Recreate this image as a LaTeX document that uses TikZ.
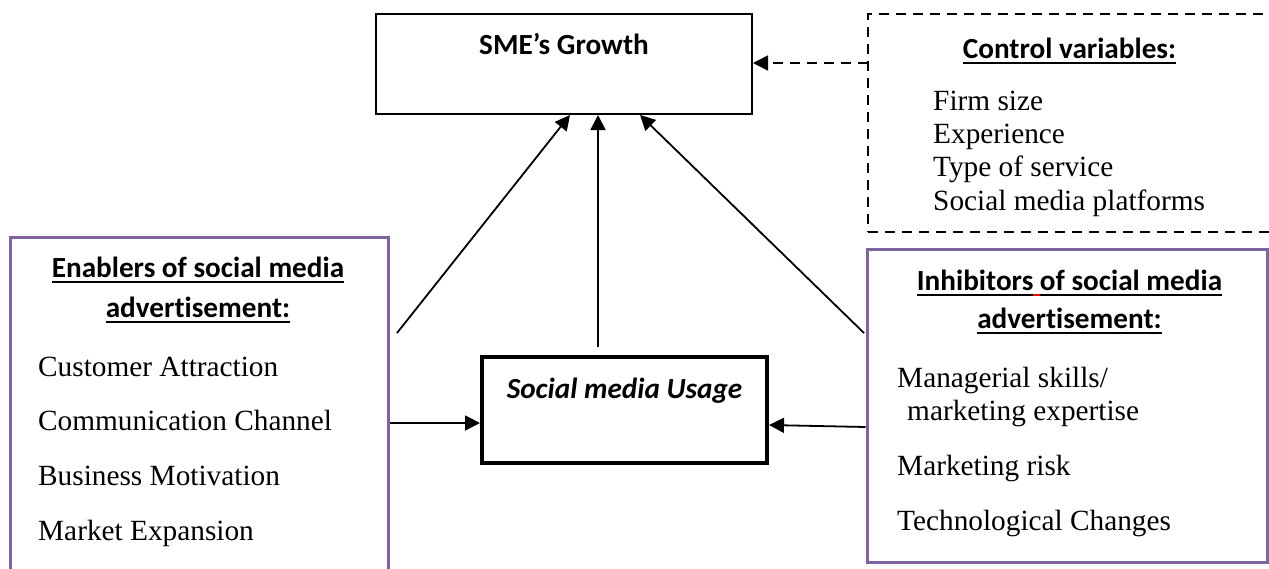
\documentclass[tikz,border=0pt]{standalone}
\usepackage{fontspec}
\setmainfont{Liberation Serif}
\newfontfamily\calfont[Ligatures=NoCommon]{Carlito}
\usetikzlibrary{arrows.meta}
\definecolor{boxpurple}{HTML}{8064A2}
\newcommand\hdul[1]{\vtop{\hbox{#1}\kern3.5pt\hrule height 2pt}}
\begin{document}
\begin{tikzpicture}[x=1pt,y=-1pt,
  serif/.style={font=\fontsize{29.3}{34}\selectfont, inner sep=0pt, anchor=base west},
  head/.style={font=\calfont\bfseries\fontsize{29.2}{34}\selectfont, inner sep=0pt, anchor=base},
  plainbox/.style={draw=black, line width=2pt, inner sep=0pt},
  purplebox/.style={draw=boxpurple, line width=3pt, inner sep=0pt},
  arr/.style={line width=1.8pt, -{Triangle[length=15pt,width=15pt]}},
  darr/.style={line width=1.6pt, dash pattern=on 10pt off 7pt, -{Triangle[length=15pt,width=15pt]}},
]
\useasboundingbox (0,0) rectangle (1269,568);
\clip (0,0) rectangle (1269,568);

% boxes
\node[plainbox, minimum width=376pt, minimum height=100pt] (sme) at (564,64) {};
\node[draw=black, line width=1.6pt, dash pattern=on 10pt off 7pt, inner sep=0pt,
      minimum width=420pt, minimum height=218pt] (ctrl) at (1078,123) {};
\node[purplebox, minimum width=378pt, minimum height=363pt] (enab) at (199,418.5) {};
\node[purplebox, minimum width=400pt, minimum height=313pt] (inhib) at (1067,405.5) {};
\node[draw=black, line width=4pt, inner sep=0pt, minimum width=285pt, minimum height=106pt] (smu) at (624.5,410) {};

% texts
\node[head] (tsme) at (564,54) {SME’s Growth};
\node[head] (tctrl) at (1069.5,58) {\hdul{Control variables:}};
\node[serif] (c1) at (933,110) {Firm size};
\node[serif] (c2) at (933,143.3) {Experience};
\node[serif] (c3) at (933,176.7) {Type of service};
\node[serif] (c4) at (933,210) {Social media platforms};

\node[head] (te1) at (198,277) {\hdul{Enablers of social media}};
\node[head] (te2) at (198,317) {\hdul{advert\kern0pt isement:}};
\node[serif] (e1) at (38,376) {Customer Attraction};
\node[serif] (e2) at (38,430) {Communication Channel};
\node[serif] (e3) at (38,485) {Business Motivation};
\node[serif] (e4) at (38,540) {Market Expansion};

\node[head] (ti1) at (1069.5,290) {\hdul{Inhibitors of social media}};
\node[head] (ti2) at (1069.5,328) {\hdul{advert\kern0pt isement:}};
\node[serif] (i1) at (897,387) {Managerial skills/};
\node[serif] (i2) at (907,420) {marketing expertise};
\node[serif] (i3) at (897,475) {Marketing risk};
\node[serif] (i4) at (897,530) {Technological Changes};

\node[head, font=\calfont\bfseries\itshape\fontsize{29.2}{34}\selectfont] (tsmu) at (624.5,398) {Social media Usage};

% spell-check mark under the underline
\coordinate (rm1) at (1033,294.5);
\coordinate (rm2) at (1040,294.5);
\draw[red, line width=2pt] (rm1) -- (rm2);

% connector end points
\coordinate (a1s) at (397,333);
\coordinate (a1e) at (570,115);
\coordinate (a2s) at (598,347);
\coordinate (a2e) at (598,115);
\coordinate (a3s) at (864,333);
\coordinate (a3e) at (640,115);
\coordinate (h1s) at (389.5,423);
\coordinate (h1e) at (480,423);
\coordinate (h2s) at (865.5,427);
\coordinate (h2e) at (769,425);
\coordinate (dvs) at (868,63);
\coordinate (dve) at (753,63);

\draw[arr] (a1s) -- (a1e);
\draw[arr] (a2s) -- (a2e);
\draw[arr] (a3s) -- (a3e);
\draw[arr] (h1s) -- (h1e);
\draw[arr] (h2s) -- (h2e);
\draw[darr] (dvs) -- (dve);
\end{tikzpicture}
\end{document}
